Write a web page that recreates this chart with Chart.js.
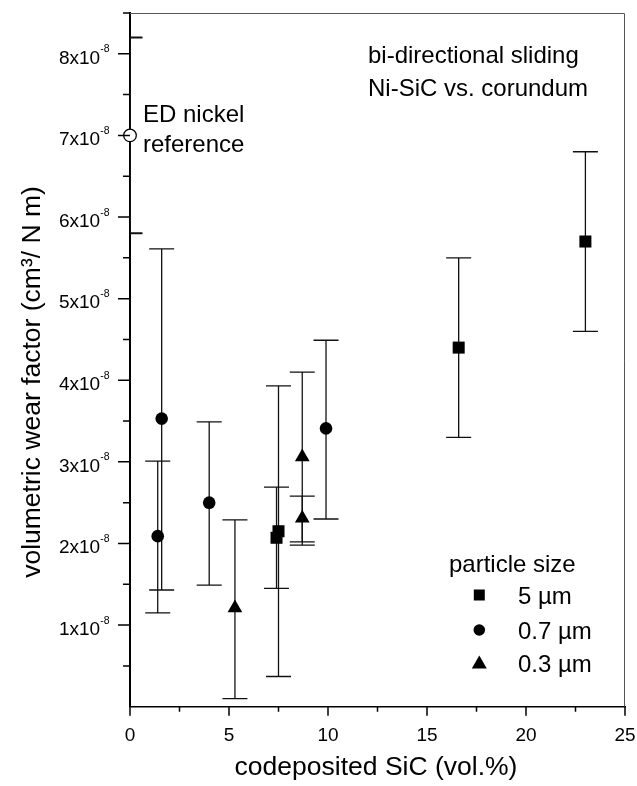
<!DOCTYPE html>
<html>
<head>
<meta charset="utf-8">
<script src="https://cdn.jsdelivr.net/npm/chart.js@4.4.0/dist/chart.umd.min.js"></script>
<style>
  html, body { margin: 0; padding: 0; background: #fff; }
  canvas { display: block; }
</style>
</head>
<body>
<canvas id="wear-chart" width="637" height="786"></canvas>
<script>
// wear factor values are in units of 1e-8 cm^3 / N m

// 5 um particles
const sic5 = [7.4, 7.5, 16.6, 23.0];
const wear5 = [2.07, 2.15, 4.40, 5.70];
const low5 = [1.45, 0.37, 3.30, 4.60];
const high5 = [2.69, 3.93, 5.50, 6.80];

// 0.7 um particles
const sic07 = [1.4, 1.6, 4.0, 9.9];
const wear07 = [2.09, 3.53, 2.50, 3.41];
const low07 = [1.15, 1.43, 1.49, 2.30];
const high07 = [3.01, 5.61, 3.49, 4.49];

// 0.3 um particles
const sic03 = [5.3, 8.7, 8.7];
const wear03 = [1.21, 3.06, 2.31];
const low03 = [0.10, 2.02, 1.98];
const high03 = [2.29, 4.10, 2.58];

// ED nickel reference
const sicRef = [0];
const wearRef = [7.0];
const lowRef = [5.8];
const highRef = [8.2];

const xTicks = [0, 5, 10, 15, 20, 25];
const yTicks = [1, 2, 3, 4, 5, 6, 7, 8];
const legendLabels = ['5 µm', '0.7 µm', '0.3 µm'];

const FONT = '"Liberation Sans", Arial, sans-serif';

function pts(xs, ys) {
    return xs.map((x, i) => ({ x: x, y: ys[i] }));
}

const errorBars = {
    id: 'errorBars',
    beforeDatasetsDraw(chart) {
        const ctx = chart.ctx;
        const xs = chart.scales.x, ys = chart.scales.y;
        const a = chart.chartArea;
        ctx.save();
        ctx.beginPath();
        ctx.rect(a.left, a.top - 5, a.right - a.left, a.bottom - a.top + 5);
        ctx.clip();
        chart.data.datasets.forEach(ds => {
            ctx.strokeStyle = '#111';
            ctx.lineWidth = ds.barWidth || 1.3;
            ds.data.forEach((p, i) => {
                const px = xs.getPixelForValue(p.x);
                const top = ys.getPixelForValue(ds.errHigh[i]);
                const bot = ys.getPixelForValue(ds.errLow[i]);
                ctx.beginPath();
                ctx.moveTo(px, top); ctx.lineTo(px, bot);
                ctx.moveTo(px - 12.5, top); ctx.lineTo(px + 12.5, top);
                ctx.moveTo(px - 12.5, bot); ctx.lineTo(px + 12.5, bot);
                ctx.stroke();
            });
        });
        ctx.restore();
    }
};

const decorations = {
    id: 'decorations',
    afterDraw(chart) {
        const ctx = chart.ctx;
        const xs = chart.scales.x, ys = chart.scales.y;
        const a = chart.chartArea;
        ctx.save();

        // frame top and right
        ctx.strokeStyle = '#555';
        ctx.lineWidth = 1;
        ctx.beginPath();
        ctx.moveTo(a.left, a.top + 0.5); ctx.lineTo(a.right - 0.5, a.top + 0.5);
        ctx.lineTo(a.right - 0.5, a.bottom);
        ctx.stroke();

        // y ticks, major and minor
        ctx.strokeStyle = '#000';
        ctx.lineWidth = 1.5;
        ctx.beginPath();
        for (let v = 0.5; v <= 8.5; v += 0.5) {
            const py = ys.getPixelForValue(v);
            const len = Number.isInteger(v) ? 12 : 7;
            ctx.moveTo(a.left - len, py); ctx.lineTo(a.left, py);
        }
        // x ticks
        for (let v = 0; v <= 25; v += 2.5) {
            const px = xs.getPixelForValue(v);
            const len = (v % 5 === 0) ? 9 : 5;
            ctx.moveTo(px, a.bottom); ctx.lineTo(px, a.bottom + len);
        }
        ctx.stroke();

        ctx.fillStyle = '#000';
        // y tick labels with superscript exponent
        yTicks.forEach(v => {
            const py = ys.getPixelForValue(v);
            ctx.font = '10.5px ' + FONT;
            ctx.textAlign = 'right';
            ctx.textBaseline = 'alphabetic';
            const expW = ctx.measureText('-8').width;
            ctx.fillText('-8', 109.5, py - 1.5);
            ctx.font = '19px ' + FONT;
            ctx.fillText(v + 'x10', 109.5 - expW, py + 9.8);
        });

        // x tick labels
        ctx.font = '19px ' + FONT;
        ctx.textAlign = 'center';
        xTicks.forEach(v => {
            ctx.fillText(String(v), xs.getPixelForValue(v), 741);
        });

        // axis titles
        ctx.font = '26.5px ' + FONT;
        ctx.fillText('codeposited SiC (vol.%)', 376, 775);
        ctx.save();
        ctx.translate(40, 382);
        ctx.rotate(-Math.PI / 2);
        ctx.fillText('volumetric wear factor (cm³/ N m)', 0, 0);
        ctx.restore();

        // annotations
        ctx.textAlign = 'left';
        ctx.font = '24px ' + FONT;
        ctx.fillText('bi-directional sliding', 368, 62.5);
        ctx.fillText('Ni-SiC vs. corundum', 368, 95.5);
        ctx.fillText('ED nickel', 143, 122);
        ctx.fillText('reference', 143, 152);

        // legend
        ctx.fillText('particle size', 449, 571.5);
        const rows = [595, 630, 663];
        legendLabels.forEach((t, i) => {
            ctx.fillText(t, 518, rows[i] + 8.5);
        });
        ctx.beginPath();
        ctx.rect(479.3 - 5.5, rows[0] - 5.5, 11, 11);
        ctx.fill();
        ctx.beginPath();
        ctx.arc(479.3, rows[1], 5.8, 0, Math.PI * 2);
        ctx.fill();
        ctx.beginPath();
        ctx.moveTo(479.3, rows[2] - 7.5);
        ctx.lineTo(479.3 + 7.5, rows[2] + 5.5);
        ctx.lineTo(479.3 - 7.5, rows[2] + 5.5);
        ctx.closePath();
        ctx.fill();

        ctx.restore();
    }
};

new Chart(document.getElementById('wear-chart').getContext('2d'), {
    type: 'scatter',
    data: {
        datasets: [
            {
                label: '5 µm',
                data: pts(sic5, wear5),
                errLow: low5, errHigh: high5,
                pointStyle: 'rect', pointRadius: 8.5,
                backgroundColor: '#000', borderColor: '#000', borderWidth: 0,
                clip: false
            },
            {
                label: '0.7 µm',
                data: pts(sic07, wear07),
                errLow: low07, errHigh: high07,
                pointStyle: 'circle', pointRadius: 6.3,
                backgroundColor: '#000', borderColor: '#000', borderWidth: 0,
                clip: false
            },
            {
                label: '0.3 µm',
                data: pts(sic03, wear03),
                errLow: low03, errHigh: high03,
                pointStyle: 'triangle', pointRadius: 8.5,
                backgroundColor: '#000', borderColor: '#000', borderWidth: 0,
                clip: false
            },
            {
                label: 'ED nickel reference',
                data: pts(sicRef, wearRef),
                errLow: lowRef, errHigh: highRef, barWidth: 2,
                pointStyle: 'circle', pointRadius: 6.3,
                backgroundColor: '#fff', borderColor: '#000', borderWidth: 1.3,
                clip: false
            }
        ]
    },
    options: {
        responsive: false,
        animation: false,
        devicePixelRatio: 1,
        layout: { padding: { top: 13, right: 12, left: 0, bottom: 0 } },
        plugins: {
            legend: { display: false },
            tooltip: { enabled: false }
        },
        scales: {
            x: {
                type: 'linear', min: 0, max: 25,
                grid: { display: false },
                ticks: { display: false, stepSize: 5 },
                border: { display: true, color: '#000', width: 1.5 },
                afterFit(s) { s.height = 79.3; }
            },
            y: {
                type: 'linear', min: 0, max: 8.5,
                grid: { display: false },
                ticks: { display: false, stepSize: 1 },
                border: { display: true, color: '#000', width: 2 },
                afterFit(s) { s.width = 130; }
            }
        }
    },
    plugins: [errorBars, decorations]
});
</script>
</body>
</html>
